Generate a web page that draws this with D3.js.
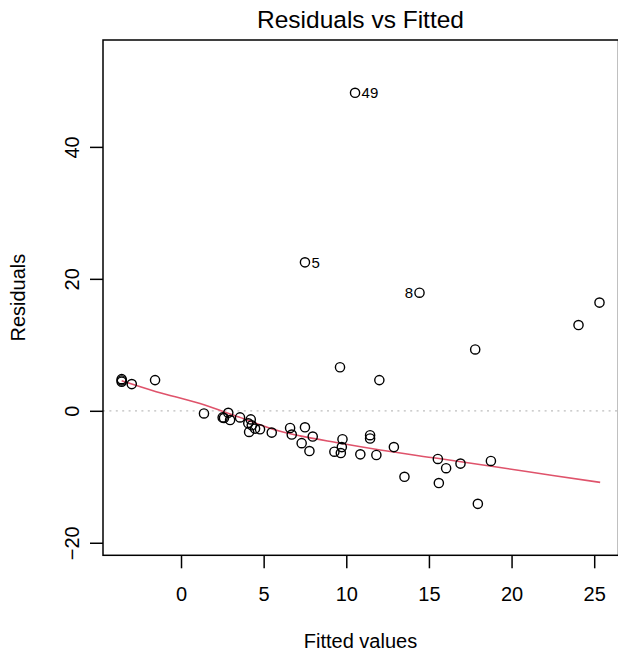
<!DOCTYPE html>
<html>
<head>
<meta charset="utf-8">
<script src="https://cdn.jsdelivr.net/npm/d3@7"></script>
<style>
  html, body { margin: 0; padding: 0; background: #fff; }
  svg { display: block; }
  text { font-family: "Liberation Sans", Arial, Helvetica, sans-serif; fill: #000; }
</style>
</head>
<body>
<svg id="chart" width="618" height="657"></svg>
<script>
// ---- data ----
const fitted = [-3.59, -3.59, -3.59, -2.98, -1.57, 1.39, 2.52, 2.60, 2.86, 2.97,
  3.57, 4.07, 4.22, 4.28, 4.12, 4.48, 4.78, 5.49, 6.60, 6.70,
  7.30, 7.50, 7.97, 7.77, 9.28, 9.67, 9.77, 9.73, 11.44, 11.44,
  10.85, 11.82, 12.88, 13.52, 15.54, 16.04, 16.91, 15.60, 17.96, 18.75,
  14.43, 17.80, 24.05, 25.32, 12.00, 9.62, 10.53, 7.50];
const residuals = [4.40, 4.60, 4.80, 4.05, 4.65, -0.40, -1.00, -1.10, -0.30, -1.40,
  -1.00, -1.90, -1.30, -2.20, -3.20, -2.70, -2.80, -3.30, -2.60, -3.60,
  -4.90, -2.50, -3.90, -6.10, -6.20, -6.40, -4.30, -5.50, -3.70, -4.20,
  -6.60, -6.70, -5.50, -10.00, -7.30, -8.70, -8.00, -10.95, -14.10, -7.60,
  17.90, 9.30, 13.00, 16.40, 4.65, 6.60, 48.20, 22.50];
const pointLabels = ["", "", "", "", "", "", "", "", "", "",
  "", "", "", "", "", "", "", "", "", "",
  "", "", "", "", "", "", "", "", "", "",
  "", "", "", "", "", "", "", "", "", "",
  "8", "", "", "", "", "", "49", "5"];
const smoothX = [-3.59, -1.5, 1.15, 3.5, 6.0, 7.2, 9.5, 12.05, 15.5, 19.3, 22.5, 25.36];
const smoothY = [4.55, 2.9, 1.1, -0.95, -3.1, -3.8, -4.85, -5.95, -7.2, -8.6, -9.8, -10.85];
const xTicks = [0, 5, 10, 15, 20, 25];
const yTicks = [-20, 0, 20, 40];
const title = "Residuals vs Fitted";
const xTitle = "Fitted values";
const yTitle = "Residuals";

// ---- layout ----
const L = 103, R = 618.5, T = 40, B = 555.3;
const svg = d3.select("#chart");

const x = d3.scaleLinear().domain([-4.72, 26.47]).range([L, R]);
const y = d3.scaleLinear().domain([-21.9, 56.2]).range([B, T]);

// zero reference line (dotted gray)
svg.append("line")
  .attr("x1", L).attr("x2", R)
  .attr("y1", y(0)).attr("y2", y(0))
  .attr("stroke", "#bebebe").attr("stroke-width", 1.3)
  .attr("stroke-dasharray", "2,4.4");

// smoother
const smooth = smoothX.map((d, i) => [d, smoothY[i]]);
svg.append("path")
  .datum(smooth)
  .attr("fill", "none")
  .attr("stroke", "#DF536B")
  .attr("stroke-width", 1.6)
  .attr("d", d3.line().x(d => x(d[0])).y(d => y(d[1])).curve(d3.curveMonotoneX));

// points
const pts = fitted.map((f, i) => ({ f, r: residuals[i], lab: pointLabels[i] }));
svg.append("g").selectAll("circle")
  .data(pts).join("circle")
  .attr("cx", d => x(d.f)).attr("cy", d => y(d.r))
  .attr("r", 4.6)
  .attr("fill", "none").attr("stroke", "#000").attr("stroke-width", 1.4);

// point labels: right of the point if in the left half, otherwise left
const midX = (d3.min(fitted) + d3.max(fitted)) / 2;
svg.append("g").selectAll("text")
  .data(pts.filter(d => d.lab !== "")).join("text")
  .attr("x", d => d.f < midX ? x(d.f) + 6.5 : x(d.f) - 6.5)
  .attr("y", d => y(d.r))
  .attr("dy", "0.36em")
  .attr("text-anchor", d => d.f < midX ? "start" : "end")
  .style("font-size", "15px")
  .text(d => d.lab);

// box
svg.append("rect")
  .attr("x", L).attr("y", T).attr("width", R - L).attr("height", B - T)
  .attr("fill", "none").attr("stroke", "#000").attr("stroke-width", 1.5);

// x axis
const gx = svg.append("g").attr("transform", `translate(0,${B})`)
  .call(d3.axisBottom(x).tickValues(xTicks).tickSize(13).tickFormat(d3.format("d")));
gx.select(".domain").remove();
gx.selectAll(".tick line").attr("stroke", "#000").attr("stroke-width", 1.5);
gx.selectAll(".tick text").attr("y", 46).attr("dy", null)
  .style("font-size", "20px").attr("fill", "#000");

// y axis (labels rotated, as in R)
const gy = svg.append("g").attr("transform", `translate(${L},0)`)
  .call(d3.axisLeft(y).tickValues(yTicks).tickSize(13).tickFormat(d => d < 0 ? "\u2212" + Math.abs(d) : d));
gy.select(".domain").remove();
gy.selectAll(".tick line").attr("stroke", "#000").attr("stroke-width", 1.5);
gy.selectAll(".tick text")
  .attr("x", null).attr("dy", null)
  .attr("text-anchor", "middle")
  .attr("transform", "translate(-24,0) rotate(-90)")
  .style("font-size", "20px").attr("fill", "#000");

// titles
svg.append("text")
  .attr("x", (L + 618) / 2).attr("y", 28)
  .attr("text-anchor", "middle")
  .style("font-size", "24.5px")
  .text(title);

svg.append("text")
  .attr("x", (L + 618) / 2).attr("y", 648)
  .attr("text-anchor", "middle")
  .style("font-size", "20px")
  .text(xTitle);

svg.append("text")
  .attr("transform", `translate(25,${(T + B) / 2}) rotate(-90)`)
  .attr("text-anchor", "middle")
  .style("font-size", "20px")
  .text(yTitle);
</script>
</body>
</html>
